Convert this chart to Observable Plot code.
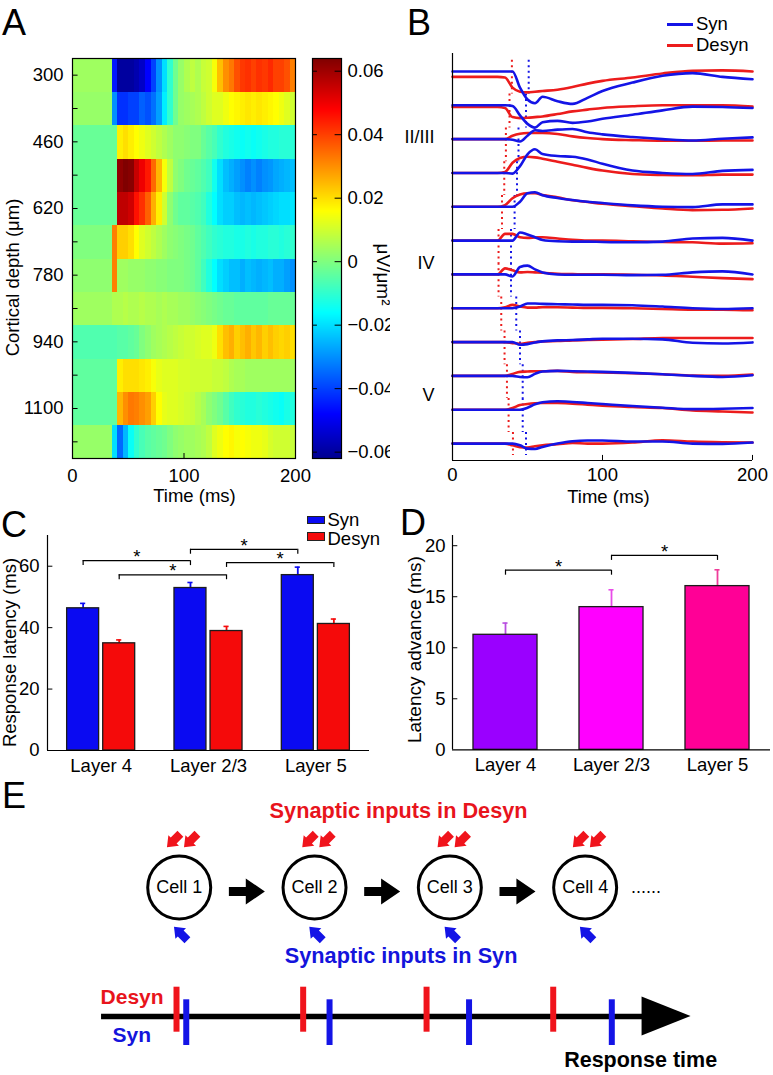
<!DOCTYPE html>
<html><head><meta charset="utf-8">
<script src="https://cdn.jsdelivr.net/npm/d3@7"></script>
<script src="https://cdn.jsdelivr.net/npm/@observablehq/plot@0.6"></script>
<style>
body{margin:0;background:#fff;}
#fig{position:relative;width:773px;height:1075px;overflow:hidden;font-family:"Liberation Sans",Arial,Helvetica,sans-serif;color:#000;background:#fff;}
.pane{position:absolute;}
.letter{position:absolute;font-size:36px;line-height:36px;}
.lg{position:absolute;font-size:18.5px;line-height:16px;white-space:nowrap;}
</style></head><body><div id="fig"></div>
<script>
// ================= DATA =================
// Panel A: CSD heat map (rows = cortical depth, columns = 5 ms bins, values x1e-3 µV/µm²)
const depthRows = [300,380,460,540,620,700,780,860,940,1020,1100,1180];
const depthLabels = [300,460,620,780,940,1100];
const timeTicks = [0,100,200];
const csdBinMs = 5;
const csdMilli = [
 [4,4,4,4,4,4,4,-45,-60,-60,-60,-58,-55,-48,-40,-30,-20,-10,-2,3,6,8,6,9,10,15,24,30,33,38,41,42,40,42,41,43,40,40,38,32],
 [3,3,3,3,3,3,3,-30,-42,-42,-40,-40,-36,-38,-34,-28,-18,-10,-2,3,4,5,6,8,10,12,12,14,16,17,18,19,18,19,18,17,16,14,12,10],
 [-3,-3,-3,-3,-3,-3,-3,-3,18,20,18,16,14,12,10,8,6,4,2,2,1,0,0,-3,-5,-7,-10,-12,-13,-14,-15,-14,-15,-14,-13,-12,-12,-11,-11,-11],
 [-3,-3,-3,-3,-3,-3,-3,-3,62,64,63,55,50,45,35,25,15,8,2,0,-2,-3,-4,-6,-8,-14,-20,-24,-26,-28,-30,-32,-30,-32,-30,-29,-27,-26,-25,-24],
 [-3,-3,-3,-3,-3,-3,-3,-3,56,56,54,46,42,36,26,18,10,2,-2,-4,-4,-5,-6,-8,-12,-16,-20,-22,-22,-24,-25,-24,-25,-24,-23,-22,-21,-20,-20,-19],
 [0,0,0,0,0,0,0,32,22,22,20,16,12,10,8,6,4,2,1,0,-1,-2,-4,-6,-8,-10,-11,-12,-12,-13,-13,-12,-13,-12,-12,-11,-11,-12,-11,-10],
 [2,2,2,2,2,2,2,32,4,4,3,3,3,2,2,1,1,0,0,0,-1,-2,-4,-8,-12,-16,-20,-22,-24,-24,-26,-24,-25,-26,-25,-24,-26,-26,-28,-30],
 [4,4,4,4,4,4,4,6,6,7,6,6,7,6,6,5,6,5,5,4,4,3,2,1,0,-1,-2,-3,-3,-4,-4,-4,-4,-4,-4,-3,-3,-3,-3,-3],
 [-6,-6,-6,-6,-6,-6,-6,-6,-5,-5,-4,-3,0,2,4,5,6,7,8,9,10,10,11,12,12,14,20,24,26,22,24,26,23,25,22,24,22,21,22,20],
 [-4,-4,-4,-4,-4,-4,-4,-4,18,20,20,20,19,18,15,13,12,12,12,11,11,10,10,10,10,9,9,8,6,5,5,4,4,4,4,4,4,4,4,4],
 [-4,-4,-4,-4,-4,-4,-4,-4,25,30,33,32,30,28,22,16,13,12,12,11,10,9,7,5,2,0,-2,-5,-8,-10,-11,-12,-12,-11,-12,-13,-14,-15,-13,-12],
 [3,3,3,3,3,3,3,-20,-35,-25,-15,-10,-7,-5,-4,-3,-2,0,2,3,4,4,5,6,8,12,14,16,17,15,16,15,14,14,13,11,10,10,10,9]
];
const colorTicks = [-0.06,-0.04,-0.02,0,0.02,0.04,0.06];
const colorRange = [-0.062, 0.064];
const jetStops = [0, 0.111, 0.365, 0.619, 0.873, 1];
const jetColors = ["#00008f","#0000ff","#00ffff","#ffff00","#ff0000","#800000"];

// Panel B: averaged traces (a.u., channel spacing 10), sampled at traceTimes (ms)
const traceTimes = [0,30,35,40,45,50,55,60,70,80,90,100,120,140,160,180,200];
const synTraces = [
 [0,0,0,0,-4.8,-8.3,-9.4,-7.5,-8.8,-9.6,-7.8,-5.8,-3.3,-1.3,-0.5,-1.6,-2.3],
 [0,0,0,-0.2,-3.0,-5.5,-6.6,-5.0,-4.6,-5.2,-4.8,-4.0,-2.8,-1.5,-0.4,-0.5,-0.8],
 [0,0,0,-0.2,-0.7,1.0,2.6,2.4,2.8,3.0,2.0,1.4,0.6,0,-0.4,0.1,0.5],
 [0,0,0,-0.2,2.0,5.5,7.0,5.6,5.0,4.8,4.0,2.7,0.7,0,-0.3,0.6,0.9],
 [0,0,0,0,1.5,4.0,4.3,3.4,2.6,2.0,1.5,1.1,0.4,0,-0.1,0.7,0.7],
 [0,0,0,0,2.4,1.8,1.0,0.2,-0.2,-0.3,-0.3,-0.4,-0.5,-0.3,0.6,0.8,0],
 [0,0,0,-0.6,2.2,2.6,1.5,0.6,0,-0.1,-0.1,-0.1,-0.2,-0.1,0.6,0.9,0],
 [0,0,0,0,0.5,1.4,1.4,1.3,1.2,1.1,1.0,1.0,0.9,0.5,0,-0.2,0],
 [0,0,0,0,-0.8,-0.6,-0.1,0.2,0.5,0.6,0.8,1.0,1.0,0.8,-0.2,-0.4,-0.1],
 [0,0,0,0,-0.3,-0.4,0.6,1.3,1.5,1.4,1.3,1.2,0.9,0.5,0,-0.3,0.2],
 [0,0,0,0,0,0.6,1.6,2.2,2.5,2.3,2.0,1.7,1.1,0.6,0.2,0.3,0.5],
 [0,0,0,0,-0.5,-1.5,-1.6,-1.0,0,0.7,0.9,0.9,0.6,0.6,0,-0.1,0.3]
];
const desynTraces = [
 [-1.6,-1.6,-1.8,-4.8,-6.0,-6.2,-6.0,-5.8,-5.4,-4.6,-3.6,-2.8,-1.8,-0.6,0.2,0.3,0],
 [-0.5,-0.5,-0.8,-3.5,-3.8,-3.7,-3.5,-3.3,-2.6,-1.8,-1.3,-0.8,-0.3,0,0,0,-0.4],
 [0,0,0,1.0,1.6,1.8,1.8,1.8,1.5,0.8,0.3,0,-0.3,-0.5,-0.5,-0.4,-0.4],
 [0,0,0.3,3.0,4.4,4.8,4.6,4.2,3.3,2.4,1.5,0.7,-0.3,-0.6,-0.7,-0.5,-0.5],
 [0,0,0.5,2.5,3.6,4.0,4.0,3.5,2.8,1.9,1.4,0.9,0.2,-0.5,-1.0,-0.9,-0.5],
 [0,0,2.0,2.0,1.0,0.8,0.9,1.0,0.6,0.2,0,0,-0.2,-0.4,-0.5,-0.9,-0.8],
 [0,0,1.8,1.2,0.6,0.7,0.6,0.5,0.2,0.1,0,0,-0.1,-0.3,-0.7,-1.1,-1.4],
 [0,0,0.3,1.0,0.5,0.2,0.2,0.3,0.3,0.2,0.1,0.1,0,-0.2,-0.4,-0.4,-0.6],
 [0,0,0,-0.3,-0.5,-0.2,0,0.2,0.3,0.5,0.6,0.7,0.9,1.2,1.2,1.2,1.2],
 [0,0,0,0.6,1.2,1.3,1.4,1.4,1.5,1.2,1.1,1.0,0.8,0.5,0.1,0,0.4],
 [0,0,0,0.5,1.4,1.7,1.9,2.0,2.0,1.8,1.5,1.2,0.8,0.5,-0.2,-0.5,-0.8],
 [0,0,0,-0.5,-1.1,-1.2,-0.8,-0.5,-0.2,0.2,0,0,0.3,1.0,0.6,0.4,0.3]
];
const synOnset   = [50.8,49,44,43,41.4,39,39,42.5,45,46.8,46.8,49];
const desynOnset = [39.6,38,35.6,34.5,33,30.7,30.7,32.5,34.7,36.3,37.4,40.3];
const layerNames = ["II/III","IV","V"];
const layerNameChannel = [1.95, 5.68, 9.58];
const chanSpacing = 10;

// Panel C: response latency (ms), mean and SEM
const layers = ["Layer 4","Layer 2/3","Layer 5"];
const latSyn = [46.3, 52.9, 57.1];
const latSynSem = [1.6, 1.8, 2.6];
const latDesyn = [34.9, 38.9, 41.2];
const latDesynSem = [1.1, 1.5, 1.6];
const latSig = [
  {from:0, to:1, cond:"Syn", level:61.8},
  {from:0, to:1, cond:"Desyn", level:57.2},
  {from:1, to:2, cond:"Syn", level:65.5},
  {from:1, to:2, cond:"Desyn", level:61.2}
];
// Panel D: latency advance (ms)
const advance = [11.27, 13.98, 16.04];
const advanceSem = [1.15, 1.7, 1.6];
const advSig = [{from:0, to:1, level:17.6}, {from:1, to:2, level:19.05}];

// Panel E: schematic
const cells = ["Cell 1","Cell 2","Cell 3","Cell 4"];
const desynResponse = [0.98, 1.916, 2.828, 3.764];
const synResponse = [1.052, 2.111, 3.142, 4.197];
const timeAxis = [0.426, 4.779];

// ================= STYLE =================
const FONT = '"Liberation Sans", Arial, Helvetica, sans-serif';
const FS = 18.5;
const baseStyle = {fontFamily: FONT, fontSize: FS + "px", color: "#000", background: "none", overflow: "visible"};
const TRACE_BLUE = "#1414e6", TRACE_RED = "#ec1c1c";
const BAR_BLUE = "#0a0af2", BAR_RED = "#f50a0a";
const ADV_FILL = ["#9a00ff", "#ff00ff", "#ff0096"];
const ADV_ERR = ["#b84ee0", "#e84ce8", "#ee3d9a"];
const E_RED = "#e8141c", E_BLUE = "#1414dc";

const fig = document.getElementById("fig");
function place(node, left, top) {
  const d = document.createElement("div");
  d.className = "pane"; d.style.left = left + "px"; d.style.top = top + "px";
  d.appendChild(node); fig.appendChild(d);
}
function html(cls, text, css) {
  const d = document.createElement("div");
  d.className = cls; d.textContent = text; Object.assign(d.style, css); fig.appendChild(d);
}
const label = (s, o) => Plot.text([s], {text: d => d, textAnchor: "middle", lineAnchor: "middle", fontSize: FS, ...o});

// ================= PANEL A =================
const heat = csdMilli.flat().map(v => v / 1000);
const nCols = csdMilli[0].length;
const tMax = nCols * csdBinMs;
const halfRow = (depthRows[1] - depthRows[0]) / 2;
const dMin = depthRows[0] - halfRow, dMax = depthRows[depthRows.length - 1] + halfRow;
const colorScale = {
  type: "linear",
  domain: jetStops.map(s => colorRange[0] + s * (colorRange[1] - colorRange[0])),
  range: jetColors, interpolate: "rgb", clamp: true
};
const plotA = Plot.plot({
  width: 300, height: 515, marginLeft: 72, marginRight: 5, marginTop: 58, marginBottom: 57,
  style: baseStyle,
  x: {domain: [0, tMax]}, y: {domain: [dMin, dMax], reverse: true},
  color: colorScale,
  marks: [
    Plot.raster(heat, {width: nCols, height: depthRows.length, x1: 0, x2: tMax, y1: dMin, y2: dMax,
      fill: d => d, imageRendering: "pixelated"}),
    Plot.frame({stroke: "#000", strokeWidth: 1.2}),
    Plot.ruleY(depthRows, {x1: 0, x2: 5, stroke: "#000", strokeWidth: 1}),
    Plot.ruleX(timeTicks, {y1: dMax, y2: dMax - 12, stroke: "#000", strokeWidth: 1}),
    Plot.axisY(depthLabels, {anchor: "left", tickSize: 0, tickPadding: 9, fontSize: FS, label: null, tickFormat: d => String(d)}),
    Plot.axisX(timeTicks, {anchor: "bottom", tickSize: 0, tickPadding: 10, fontSize: FS, label: null}),
    label("Cortical depth (μm)", {frameAnchor: "left", rotate: -90, dx: -59.5, dy: 19}),
    label("Time (ms)", {frameAnchor: "bottom", dx: 10.5, dy: 38})
  ]
});
place(plotA, 0, 0);

const plotBar = Plot.plot({
  width: 100, height: 515, marginLeft: 12, marginRight: 59, marginTop: 58, marginBottom: 57,
  style: baseStyle,
  x: {domain: [0, 1], axis: null}, y: {domain: colorRange},
  color: colorScale,
  marks: [
    Plot.raster({x1: 0, x2: 1, y1: colorRange[0], y2: colorRange[1], fill: (x, y) => y, pixelSize: 1}),
    Plot.frame({stroke: "#000", strokeWidth: 1.2}),
    Plot.ruleY(colorTicks, {x1: 0, x2: 0.17, stroke: "#000"}),
    Plot.ruleY(colorTicks, {x1: 0.78, x2: 1, stroke: "#000"}),
    Plot.axisY(colorTicks, {anchor: "right", tickSize: 0, tickPadding: 6, fontSize: FS, label: null,
      tickFormat: d => d === 0 ? "0" : d3.format(".2f")(d)}),
    label("μV/μm²", {frameAnchor: "right", rotate: 90, dx: 42, dy: 16, fontSize: 19})
  ]
});
place(plotBar, 300, 0);

// ================= PANEL B =================
function traceRows(traces, cond) {
  const out = [];
  traces.forEach((row, ch) => row.forEach((v, k) => out.push({cond, ch, t: traceTimes[k], v: v - ch * chanSpacing})));
  return out;
}
function onsetRows(onsets) {
  return onsets.map((t, ch) => ({t, y1: -ch * chanSpacing + 3.3, y2: Math.max(-ch * chanSpacing - 6.7, -113.5)}));
}
const yTopB = 5.3, yBotB = -115;
const plotB = Plot.plot({
  width: 383, height: 515, marginLeft: 62, marginRight: 21, marginTop: 53, marginBottom: 55,
  style: {...baseStyle, background: "#fff"},
  x: {domain: [0, 200]}, y: {domain: [yBotB, yTopB], axis: null},
  marks: [
    Plot.ruleX(onsetRows(desynOnset), {x: "t", y1: "y1", y2: "y2", stroke: TRACE_RED, strokeWidth: 2, strokeDasharray: "2,3.5"}),
    Plot.ruleX(onsetRows(synOnset), {x: "t", y1: "y1", y2: "y2", stroke: TRACE_BLUE, strokeWidth: 2, strokeDasharray: "2,3.5"}),
    Plot.line(traceRows(desynTraces, "Desyn"), {x: "t", y: "v", z: "ch", stroke: TRACE_RED, strokeWidth: 2.6, curve: "monotone-x"}),
    Plot.line(traceRows(synTraces, "Syn"), {x: "t", y: "v", z: "ch", stroke: TRACE_BLUE, strokeWidth: 2.6, curve: "monotone-x"}),
    Plot.ruleX([0], {stroke: "#000", strokeWidth: 1.2}),
    Plot.ruleY([yBotB], {stroke: "#000", strokeWidth: 1.2}),
    Plot.ruleX(timeTicks, {y1: yBotB, y2: yBotB + 1.5, stroke: "#000"}),
    Plot.axisX(timeTicks, {anchor: "bottom", tickSize: 0, tickPadding: 7, fontSize: FS, label: null}),
    Plot.text(layerNames, {text: d => d, x: 0, y: (d, i) => -layerNameChannel[i] * chanSpacing, dx: -18, textAnchor: "end", fontSize: 18}),
    label("Time (ms)", {frameAnchor: "bottom", dx: 6, dy: 37})
  ]
});
place(plotB, 390, 0);

// ================= PANEL C =================
const barHalfC = 0.317, barGapC = 0.019;
const condOffset = (barHalfC + barGapC) / 2;
const cBars = layers.flatMap((L, i) => [
  {i, cond: "Syn", v: latSyn[i], e: latSynSem[i], x1: i - barHalfC, x2: i - barGapC, c: i - condOffset, fill: BAR_BLUE},
  {i, cond: "Desyn", v: latDesyn[i], e: latDesynSem[i], x1: i + barGapC, x2: i + barHalfC, c: i + condOffset, fill: BAR_RED}
]);
const sigX = (i, cond) => i + (cond === "Syn" ? -condOffset : condOffset);
const legC = 1.6, capC = 0.024;
const plotC = Plot.plot({
  width: 390, height: 320, marginLeft: 47, marginRight: 21, marginTop: 55, marginBottom: 50,
  style: baseStyle,
  x: {domain: [-0.5, 2.5]}, y: {domain: [0, 70]},
  color: {type: "identity"},
  marks: [
    Plot.ruleX(cBars, {x: "c", y1: "v", y2: d => d.v + d.e, stroke: "fill", strokeWidth: 1.8}),
    Plot.ruleY(cBars, {y: d => d.v + d.e, x1: d => d.c - capC, x2: d => d.c + capC, stroke: "fill", strokeWidth: 1.6}),
    Plot.rectY(cBars, {x1: "x1", x2: "x2", y1: 0, y2: "v", fill: "fill", stroke: "#1c1c1c", strokeWidth: 1.3}),
    Plot.ruleY(latSig, {y: "level", x1: d => sigX(d.from, d.cond), x2: d => sigX(d.to, d.cond), stroke: "#000", strokeWidth: 1.2}),
    Plot.ruleX(latSig, {x: d => sigX(d.from, d.cond), y1: "level", y2: d => d.level - legC, stroke: "#000", strokeWidth: 1.2}),
    Plot.ruleX(latSig, {x: d => sigX(d.to, d.cond), y1: "level", y2: d => d.level - legC, stroke: "#000", strokeWidth: 1.2}),
    Plot.text(latSig, {x: d => (sigX(d.from, d.cond) + sigX(d.to, d.cond)) / 2, y: "level", text: () => "*", dy: -3.5, fontSize: FS}),
    Plot.ruleX([-0.5], {stroke: "#000", strokeWidth: 1.2}),
    Plot.ruleY([0], {stroke: "#000", strokeWidth: 1.2}),
    Plot.ruleY([20, 40, 60], {x1: -0.5, x2: -0.45, stroke: "#000"}),
    Plot.axisY([0, 20, 40, 60], {anchor: "left", tickSize: 0, tickPadding: 8, fontSize: FS, label: null}),
    Plot.axisX([0, 1, 2], {anchor: "bottom", tickSize: 0, tickPadding: 8, fontSize: FS, label: null, tickFormat: i => layers[i]}),
    label("Response latency (ms)", {frameAnchor: "left", rotate: -90, dx: -37, dy: 9.5})
  ]
});
place(plotC, 0, 480);

// ================= PANEL D =================
const barHalfD = 0.302, capD = 0.024, legD = 0.49;
const dBars = layers.map((L, i) => ({i, v: advance[i], e: advanceSem[i], fill: ADV_FILL[i], err: ADV_ERR[i]}));
const plotD = Plot.plot({
  width: 383, height: 320, marginLeft: 62, marginRight: 3, marginTop: 55, marginBottom: 50.7,
  style: baseStyle,
  x: {domain: [-0.5, 2.5]}, y: {domain: [0, 21]},
  color: {type: "identity"},
  marks: [
    Plot.ruleX(dBars, {x: "i", y1: "v", y2: d => d.v + d.e, stroke: "err", strokeWidth: 1.8}),
    Plot.ruleY(dBars, {y: d => d.v + d.e, x1: d => d.i - capD, x2: d => d.i + capD, stroke: "err", strokeWidth: 1.6}),
    Plot.rectY(dBars, {x1: d => d.i - barHalfD, x2: d => d.i + barHalfD, y1: 0, y2: "v", fill: "fill", stroke: "#1c1c1c", strokeWidth: 1.3}),
    Plot.ruleY(advSig, {y: "level", x1: "from", x2: "to", stroke: "#000", strokeWidth: 1.2}),
    Plot.ruleX(advSig, {x: "from", y1: "level", y2: d => d.level - legD, stroke: "#000", strokeWidth: 1.2}),
    Plot.ruleX(advSig, {x: "to", y1: "level", y2: d => d.level - legD, stroke: "#000", strokeWidth: 1.2}),
    Plot.text(advSig, {x: d => (d.from + d.to) / 2, y: "level", text: () => "*", dy: -3.5, fontSize: FS}),
    Plot.ruleX([-0.5], {stroke: "#000", strokeWidth: 1.2}),
    Plot.ruleY([0], {stroke: "#000", strokeWidth: 1.2}),
    Plot.ruleY([5, 10, 15, 20], {x1: -0.5, x2: -0.45, stroke: "#000"}),
    Plot.axisY([0, 5, 10, 15, 20], {anchor: "left", tickSize: 0, tickPadding: 7, fontSize: FS, label: null}),
    Plot.axisX([0, 1, 2], {anchor: "bottom", tickSize: 0, tickPadding: 8.5, fontSize: FS, label: null, tickFormat: i => layers[i]}),
    label("Latency advance (ms)", {frameAnchor: "left", rotate: -90, dx: -38, dy: 7, fontSize: 19})
  ]
});
place(plotD, 390, 480);

// ================= PANEL E =================
function blockArrow(headFrac, shaftFrac) {
  return {draw(c, l, r) {
    const hl = l * headFrac, sw = r * shaftFrac, b = -(l - hl);
    c.moveTo(-sw, 0); c.lineTo(-sw, b); c.lineTo(-r, b); c.lineTo(0, -l);
    c.lineTo(r, b); c.lineTo(sw, b); c.lineTo(sw, 0); c.closePath();
  }};
}
const triangle = {draw(c, l, r) { c.moveTo(-r, 0); c.lineTo(0, -l); c.lineTo(r, 0); c.closePath(); }};
const cellIdx = cells.map((d, i) => i + 1);
const desynInputs = cellIdx.flatMap(i => [i - 0.041, i + 0.085]);
const synInputs = cellIdx.map(i => i + 0.011);
const plotE = Plot.plot({
  width: 773, height: 285, margin: 0,
  style: baseStyle,
  x: {domain: [-0.3208, 5.392], axis: null}, y: {domain: [0, 285], reverse: true, axis: null},
  marks: [
    Plot.text(["Synaptic inputs in Desyn"], {text: d => d, x: 2.621, y: 21, fill: E_RED, fontWeight: "bold", fontSize: 21.7}),
    Plot.vector(desynInputs, {x: d => d, y: 50, rotate: 225, length: 19, r: 7.5, shape: blockArrow(0.5, 0.55), anchor: "middle", fill: "#f0141c", stroke: "none"}),
    Plot.dot(cellIdx, {x: d => d, y: 97, r: 31.5, stroke: "#000", strokeWidth: 3, fill: "#fff"}),
    Plot.text(cells, {text: d => d, x: (d, i) => i + 1, y: 97, fontSize: 18}),
    Plot.vector(cellIdx.slice(0, 3), {x: d => d + 0.5, y: 101, rotate: 90, length: 36, r: 13, shape: blockArrow(0.53, 0.35), anchor: "middle", fill: "#000", stroke: "none"}),
    Plot.text(["......"], {text: d => d, x: 4.45, y: 97, fontSize: 18}),
    Plot.vector(synInputs, {x: d => d, y: 143, rotate: 315, length: 19, r: 7.5, shape: blockArrow(0.5, 0.55), anchor: "middle", fill: "#1414e6", stroke: "none"}),
    Plot.text(["Synaptic inputs in Syn"], {text: d => d, x: 2.64, y: 166, fill: E_BLUE, fontWeight: "bold", fontSize: 21.7}),
    Plot.ruleY([226], {x1: timeAxis[0], x2: timeAxis[1] - 0.3, stroke: "#000", strokeWidth: 5.5}),
    Plot.vector([timeAxis[1]], {x: d => d, y: 225.5, rotate: 90, length: 49, r: 19.5, shape: triangle, anchor: "end", fill: "#000", stroke: "none"}),
    Plot.ruleX(desynResponse, {x: d => d, y1: 196.7, y2: 241.7, stroke: "#f0141c", strokeWidth: 6}),
    Plot.ruleX(synResponse, {x: d => d, y1: 209.3, y2: 255, stroke: "#1414e6", strokeWidth: 6}),
    Plot.text(["Desyn"], {text: d => d, x: timeAxis[0], y: 207, textAnchor: "start", dx: -1, fill: E_RED, fontWeight: "bold", fontSize: 21}),
    Plot.text(["Syn"], {text: d => d, x: timeAxis[0], y: 244.7, textAnchor: "start", dx: 11, fill: E_BLUE, fontWeight: "bold", fontSize: 21}),
    Plot.text(["Response time"], {text: d => d, x: 4.41, y: 269.7, fontWeight: "bold", fontSize: 21.5})
  ]
});
place(plotE, 0, 790);

// ================= HTML overlays: panel letters & legends =================
[["A", 2, 5.3], ["B", 407, 5.3], ["C", 1, 507], ["D", 400, 505.3], ["E", 2, 778.3]].forEach(([t, l, tp]) =>
  html("letter", t, {left: l + "px", top: tp + "px"}));

// Panel B legend (line swatches)
[["Syn", TRACE_BLUE, 24.3], ["Desyn", TRACE_RED, 45.7]].forEach(([t, c, y]) => {
  const s = document.createElement("div");
  Object.assign(s.style, {position: "absolute", left: "666.7px", top: (y - 1.5) + "px", width: "26.6px", height: "3px", background: c});
  fig.appendChild(s);
  html("lg", t, {left: "696px", top: (y - 8.5) + "px"});
});
// Panel C legend (box swatches)
[["Syn", BAR_BLUE, 515.7, 519], ["Desyn", BAR_RED, 532.3, 538.5]].forEach(([t, c, y, ty]) => {
  const s = document.createElement("div");
  Object.assign(s.style, {position: "absolute", left: "306.7px", top: y + "px", width: "18.3px", height: "8.5px",
    background: c, border: "1px solid #222", boxSizing: "border-box"});
  fig.appendChild(s);
  html("lg", t, {left: "327.5px", top: (ty - 7.5) + "px"});
});
</script></body></html>
